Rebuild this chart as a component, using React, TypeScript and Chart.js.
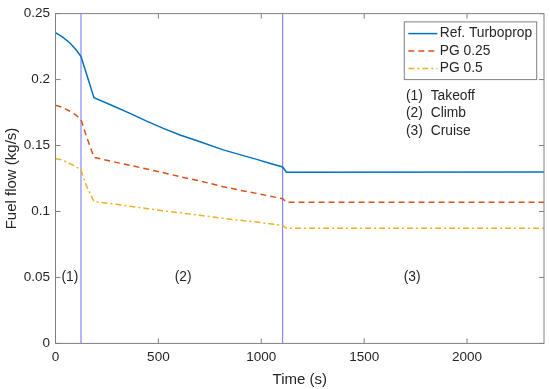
import React, { useEffect, useRef } from 'react';
import { Chart, registerables } from 'chart.js';

Chart.register(...registerables);

// ---- data ----
const TIME = [0, 35, 70, 100, 124, 150, 187, 281, 362, 443, 524, 605, 699, 815, 900, 978, 1040, 1104, 1122, 2374];
const REF_TURBOPROP = [0.2355, 0.2322, 0.2277, 0.2226, 0.2175, 0.2046, 0.1862, 0.18, 0.1744, 0.1685, 0.163, 0.158, 0.153, 0.1467, 0.1429, 0.1395, 0.1366, 0.1337, 0.1298, 0.13];
const PG_025 = [0.1805, 0.1788, 0.176, 0.173, 0.1695, 0.1572, 0.141, 0.1377, 0.135, 0.1322, 0.1294, 0.1264, 0.1232, 0.1188, 0.116, 0.1137, 0.1117, 0.1097, 0.107, 0.107];
const PG_05 = [0.14, 0.139, 0.1362, 0.134, 0.1313, 0.1195, 0.1075, 0.1058, 0.104, 0.1022, 0.1005, 0.099, 0.0972, 0.0948, 0.0933, 0.092, 0.0907, 0.0895, 0.0873, 0.0873];

const SERIES_NAMES = ['Ref. Turboprop', 'PG 0.25', 'PG 0.5'];
const PHASE_BOUNDS = [124, 1104];
const PHASE_TAGS = ['(1)', '(2)', '(3)'];
const PHASE_NAMES = ['Takeoff', 'Climb', 'Cruise'];
const PHASE_TAG_TIME = [70, 620, 1733];
const PHASE_TAG_FLOW = 0.05;

const X_MIN = 0;
const X_MAX = 2374;
const X_TICKS = [0, 500, 1000, 1500, 2000];
const Y_MIN = 0;
const Y_MAX = 0.25;
const Y_TICKS = [0, 0.05, 0.1, 0.15, 0.2, 0.25];
const Y_TICK_LABELS = ['0', '0.05', '0.1', '0.15', '0.2', '0.25'];

const X_TITLE = 'Time (s)';
const Y_TITLE = 'Fuel flow (kg/s)';

// ---- styles ----
const FONT = "'Liberation Sans', Arial, Helvetica, sans-serif";
const TEXT = '#262626';
const AXIS = '#808080';
const COLORS = ['#0072BD', '#D95319', '#EDB120'];
const DASHES: number[][] = [[], [6, 4], [6, 3, 2, 3]];
const VLINE = '#6f6fff';
const TICK_SIZE = 13.5;
const LEGEND_SIZE = 13.8;
const TITLE_SIZE = 15;

const decorPlugin = {
  id: 'matlabDecor',
  afterDatasetsDraw(chart: any) {
    const { ctx, chartArea: a, scales } = chart;
    const xs = scales.x;
    const ys = scales.y;
    ctx.save();
    // axes box
    ctx.strokeStyle = AXIS;
    ctx.lineWidth = 1;
    ctx.setLineDash([]);
    ctx.strokeRect(a.left, a.top, a.right - a.left, a.bottom - a.top);
    // inward ticks
    const tl = 5;
    ctx.beginPath();
    X_TICKS.forEach((v) => {
      const px = xs.getPixelForValue(v);
      ctx.moveTo(px, a.bottom);
      ctx.lineTo(px, a.bottom - tl);
      ctx.moveTo(px, a.top);
      ctx.lineTo(px, a.top + tl);
    });
    Y_TICKS.forEach((v) => {
      const py = ys.getPixelForValue(v);
      ctx.moveTo(a.left, py);
      ctx.lineTo(a.left + tl, py);
      ctx.moveTo(a.right, py);
      ctx.lineTo(a.right - tl, py);
    });
    ctx.stroke();

    ctx.font = `${LEGEND_SIZE}px ${FONT}`;
    ctx.fillStyle = TEXT;
    ctx.textBaseline = 'middle';
    // phase tags
    ctx.textAlign = 'center';
    PHASE_TAGS.forEach((t, i) => {
      ctx.fillText(t, xs.getPixelForValue(PHASE_TAG_TIME[i]), ys.getPixelForValue(PHASE_TAG_FLOW));
    });

    // legend box
    const bx = a.right - 139.7;
    const by = a.top + 8.3;
    const bw = 132.4;
    const bh = 57.7;
    ctx.fillStyle = '#ffffff';
    ctx.fillRect(bx, by, bw, bh);
    ctx.strokeStyle = AXIS;
    ctx.strokeRect(bx, by, bw, bh);
    SERIES_NAMES.forEach((name, i) => {
      const cy = by + 11.7 + i * 17.5;
      ctx.strokeStyle = COLORS[i];
      ctx.lineWidth = 1.5;
      ctx.setLineDash(DASHES[i]);
      ctx.beginPath();
      ctx.moveTo(bx + 4, cy);
      ctx.lineTo(bx + 33, cy);
      ctx.stroke();
      ctx.setLineDash([]);
      ctx.fillStyle = TEXT;
      ctx.textAlign = 'left';
      ctx.fillText(name, bx + 35.5, cy);
    });

    // phase list
    PHASE_NAMES.forEach((name, i) => {
      const cy = by + 74 + i * 17.7;
      ctx.fillStyle = TEXT;
      ctx.textAlign = 'left';
      ctx.fillText(PHASE_TAGS[i], bx + 1.7, cy);
      ctx.fillText(name, bx + 26.4, cy);
    });
    ctx.restore();
  },
};

export default function App() {
  const ref = useRef<HTMLCanvasElement>(null);
  useEffect(() => {
    document.body.style.margin = '0';
    const series = [REF_TURBOPROP, PG_025, PG_05].map((vals, i) => ({
      label: SERIES_NAMES[i],
      data: TIME.map((t, k) => ({ x: t, y: vals[k] })),
      borderColor: COLORS[i],
      backgroundColor: COLORS[i],
      borderWidth: 1.5,
      borderDash: DASHES[i],
      pointRadius: 0,
      fill: false,
      tension: 0,
    }));
    const vlines = PHASE_BOUNDS.map((t) => ({
      label: '',
      data: [
        { x: t, y: Y_MIN },
        { x: t, y: Y_MAX },
      ],
      borderColor: VLINE,
      borderWidth: 1,
      pointRadius: 0,
      fill: false,
    }));
    const chart = new Chart(ref.current!, {
      type: 'line',
      data: { datasets: [...series, ...vlines] as any },
      options: {
        animation: false,
        responsive: false,
        parsing: false,
        normalized: true,
        font: { family: FONT, size: TICK_SIZE },
        color: TEXT,
        layout: { padding: { top: 10, right: 6, left: 0, bottom: 0 } },
        plugins: { legend: { display: false }, tooltip: { enabled: false } },
        scales: {
          x: {
            type: 'linear',
            min: X_MIN,
            max: X_MAX,
            grid: { display: false, drawTicks: false },
            border: { display: false },
            afterBuildTicks: (s: any) => {
              s.ticks = X_TICKS.map((v) => ({ value: v }));
            },
            afterFit: (s: any) => {
              s.height = 45.6;
            },
            ticks: {
              padding: 6,
              color: TEXT,
              font: { family: FONT, size: TICK_SIZE },
              maxRotation: 0,
              autoSkip: false,
              callback: (v: any) => String(v),
            },
            title: {
              display: true,
              text: X_TITLE,
              color: TEXT,
              font: { family: FONT, size: TITLE_SIZE },
              padding: { top: 0, bottom: 0 },
            },
          },
          y: {
            type: 'linear',
            min: Y_MIN,
            max: Y_MAX,
            grid: { display: false, drawTicks: false },
            border: { display: false },
            afterBuildTicks: (s: any) => {
              s.ticks = Y_TICKS.map((v) => ({ value: v }));
            },
            afterFit: (s: any) => {
              s.width = 55.5;
            },
            ticks: {
              padding: 5.5,
              color: TEXT,
              font: { family: FONT, size: TICK_SIZE },
              autoSkip: false,
              callback: (v: any) => {
                const i = Y_TICKS.findIndex((t) => Math.abs(t - v) < 1e-9);
                return i >= 0 ? Y_TICK_LABELS[i] : '';
              },
            },
            title: {
              display: true,
              text: Y_TITLE,
              color: TEXT,
              font: { family: FONT, size: TITLE_SIZE },
              padding: { top: 3, bottom: 0 },
            },
          },
        },
      },
      plugins: [decorPlugin],
    });
    return () => chart.destroy();
  }, []);
  return (
    <div style={{ width: 550, height: 389 }}>
      <canvas ref={ref} width={550} height={389} style={{ display: 'block', width: 550, height: 389 }} />
    </div>
  );
}
